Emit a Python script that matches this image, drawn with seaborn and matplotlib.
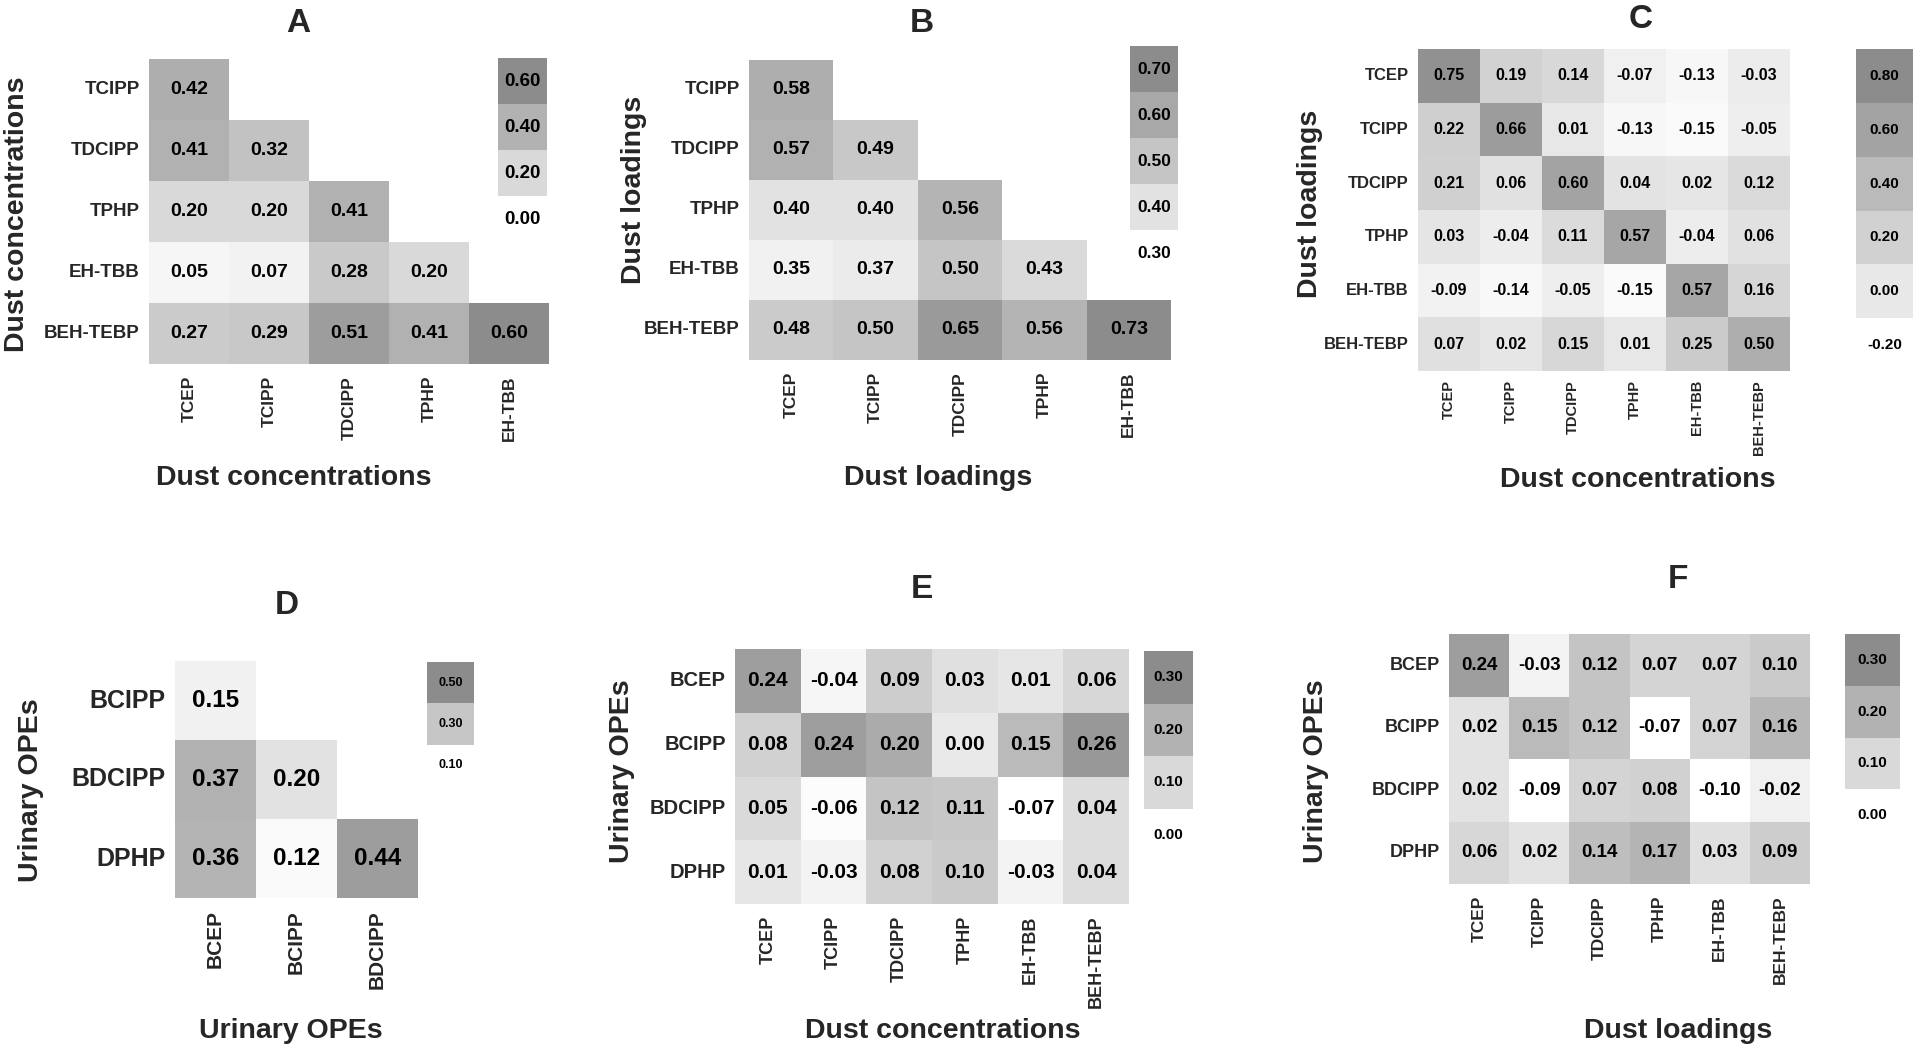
import numpy as np
import matplotlib
matplotlib.use("Agg")
import matplotlib.pyplot as plt
from matplotlib.colors import LinearSegmentedColormap
import seaborn as sns

# ==========================================
# DATA
# ==========================================

nan = np.nan

dust_rows = ["TCIPP", "TDCIPP", "TPHP", "EH-TBB", "BEH-TEBP"]
dust_cols = ["TCEP", "TCIPP", "TDCIPP", "TPHP", "EH-TBB"]
dust_all = ["TCEP", "TCIPP", "TDCIPP", "TPHP", "EH-TBB", "BEH-TEBP"]
urine_rows = ["BCIPP", "BDCIPP", "DPHP"]
urine_cols = ["BCEP", "BCIPP", "BDCIPP"]
urine_all = ["BCEP", "BCIPP", "BDCIPP", "DPHP"]

# A: dust concentrations vs dust concentrations
conc_conc = [
    [0.42, nan, nan, nan, nan],
    [0.41, 0.32, nan, nan, nan],
    [0.20, 0.20, 0.41, nan, nan],
    [0.05, 0.07, 0.28, 0.20, nan],
    [0.27, 0.29, 0.51, 0.41, 0.60],
]

# B: dust loadings vs dust loadings
load_load = [
    [0.58, nan, nan, nan, nan],
    [0.57, 0.49, nan, nan, nan],
    [0.40, 0.40, 0.56, nan, nan],
    [0.35, 0.37, 0.50, 0.43, nan],
    [0.48, 0.50, 0.65, 0.56, 0.73],
]

# C: dust loadings (rows) vs dust concentrations (cols)
load_conc = [
    [0.75, 0.19, 0.14, -0.07, -0.13, -0.03],
    [0.22, 0.66, 0.01, -0.13, -0.15, -0.05],
    [0.21, 0.06, 0.60, 0.04, 0.02, 0.12],
    [0.03, -0.04, 0.11, 0.57, -0.04, 0.06],
    [-0.09, -0.14, -0.05, -0.15, 0.57, 0.16],
    [0.07, 0.02, 0.15, 0.01, 0.25, 0.50],
]

# D: urinary OPEs vs urinary OPEs
urine_urine = [
    [0.15, nan, nan],
    [0.37, 0.20, nan],
    [0.36, 0.12, 0.44],
]

# E: urinary OPEs vs dust concentrations
urine_conc = [
    [0.24, -0.04, 0.09, 0.03, 0.01, 0.06],
    [0.08, 0.24, 0.20, 0.00, 0.15, 0.26],
    [0.05, -0.06, 0.12, 0.11, -0.07, 0.04],
    [0.01, -0.03, 0.08, 0.10, -0.03, 0.04],
]

# F: urinary OPEs vs dust loadings
urine_load = [
    [0.24, -0.03, 0.12, 0.07, 0.07, 0.10],
    [0.02, 0.15, 0.12, -0.07, 0.07, 0.16],
    [0.02, -0.09, 0.07, 0.08, -0.10, -0.02],
    [0.06, 0.02, 0.14, 0.17, 0.03, 0.09],
]

# legend levels for each panel
levels_a = [0.60, 0.40, 0.20, 0.00]
levels_b = [0.70, 0.60, 0.50, 0.40, 0.30]
levels_c = [0.80, 0.60, 0.40, 0.20, 0.00, -0.20]
levels_d = [0.50, 0.30, 0.10]
levels_e = [0.30, 0.20, 0.10, 0.00]
levels_f = [0.30, 0.20, 0.10, 0.00]

# ==========================================
# STYLE
# ==========================================

sns.set_style("white")
plt.rcParams["font.family"] = ["Liberation Sans", "DejaVu Sans"]

cmap = LinearSegmentedColormap.from_list("greys_soft", ["#ffffff", "#8c8c8c"])

fig = plt.figure(figsize=(19.2, 10.56), dpi=100)
W, H = 1920, 1056


def rect(x0, x1, y0, y1):
    # pixel box -> figure fraction
    return [x0 / W, 1 - y1 / H, (x1 - x0) / W, (y1 - y0) / H]


def panel(data, rows, cols, levels, hm_box, cb_box, tick_fs, xtick_fs,
          annot_fs, cb_fs, vmin=None, xpad=5):
    levels = np.array(levels)
    lo, hi = levels.min(), levels.max()
    if vmin is None:
        vmin = lo

    ax = fig.add_axes(rect(*hm_box))
    arr = np.array(data, dtype=float)
    sns.heatmap(
        arr,
        mask=np.isnan(arr),
        ax=ax,
        cmap=cmap,
        vmin=vmin,
        vmax=hi,
        annot=True,
        fmt=".2f",
        cbar=False,
        xticklabels=cols,
        yticklabels=rows,
        annot_kws=dict(color="black", fontsize=annot_fs, fontweight="bold"),
    )
    ax.tick_params(axis="y", labelsize=tick_fs, pad=3, rotation=0)
    ax.tick_params(axis="x", labelsize=xtick_fs, pad=xpad, rotation=90)
    for lab in ax.get_xticklabels() + ax.get_yticklabels():
        lab.set_fontweight("bold")

    # discrete colour key drawn as a one-column heatmap
    cax = fig.add_axes(rect(*cb_box))
    sns.heatmap(
        levels.reshape(-1, 1),
        ax=cax,
        cmap=cmap,
        vmin=lo,
        vmax=hi,
        annot=True,
        fmt=".2f",
        cbar=False,
        xticklabels=False,
        yticklabels=False,
        annot_kws=dict(color="black", fontsize=cb_fs, fontweight="bold"),
    )


def labels(letter, title_xy, xlabel, xlabel_xy, ylabel, ylabel_xy):
    fig.text(title_xy[0] / W, 1 - title_xy[1] / H, letter,
             ha="center", va="center", fontsize=24, fontweight="bold")
    fig.text(xlabel_xy[0] / W, 1 - xlabel_xy[1] / H, xlabel,
             ha="center", va="center", fontsize=20.5, fontweight="bold")
    fig.text(ylabel_xy[0] / W, 1 - ylabel_xy[1] / H, ylabel,
             ha="center", va="center", rotation=90,
             fontsize=20.5, fontweight="bold")


# ==========================================
# PANELS
# ==========================================

panel(conc_conc, dust_rows, dust_cols, levels_a,
      (149, 549, 59, 364), (498, 547, 58, 242), 13.5, 12.5, 14, 13.5)
labels("A", (298, 24), "Dust concentrations", (294, 478),
       "Dust concentrations", (17, 214))

panel(load_load, dust_rows, dust_cols, levels_b,
      (749, 1171, 60, 360), (1130, 1178, 46, 276), 13.5, 12.5, 14, 12.5)
labels("B", (922, 24), "Dust loadings", (938, 478),
       "Dust loadings", (634, 190))

panel(load_conc, dust_all, dust_all, levels_c,
      (1418, 1790, 49, 371), (1856, 1913, 49, 372), 12, 10.5, 11.5, 11,
      xpad=3)
labels("C", (1641, 20), "Dust concentrations", (1638, 480),
       "Dust loadings", (1310, 204))

panel(urine_urine, urine_rows, urine_cols, levels_d,
      (175, 418, 661, 898), (427, 474, 662, 786), 18, 15, 17.5, 9)
labels("D", (287, 606), "Urinary OPEs", (291, 1031),
       "Urinary OPEs", (31, 790))

panel(urine_conc, urine_all, dust_all, levels_e,
      (735, 1129, 649, 904), (1144, 1193, 651, 861), 14.5, 13, 15, 11,
      vmin=-0.07)
labels("E", (922, 589), "Dust concentrations", (943, 1031),
       "Urinary OPEs", (622, 771))

panel(urine_load, urine_all, dust_all, levels_f,
      (1449, 1810, 634, 884), (1845, 1900, 634, 841), 13, 12.5, 13.5, 11,
      vmin=-0.07)
labels("F", (1678, 580), "Dust loadings", (1678, 1031),
       "Urinary OPEs", (1316, 771))

fig.savefig("out.png", dpi=100)
